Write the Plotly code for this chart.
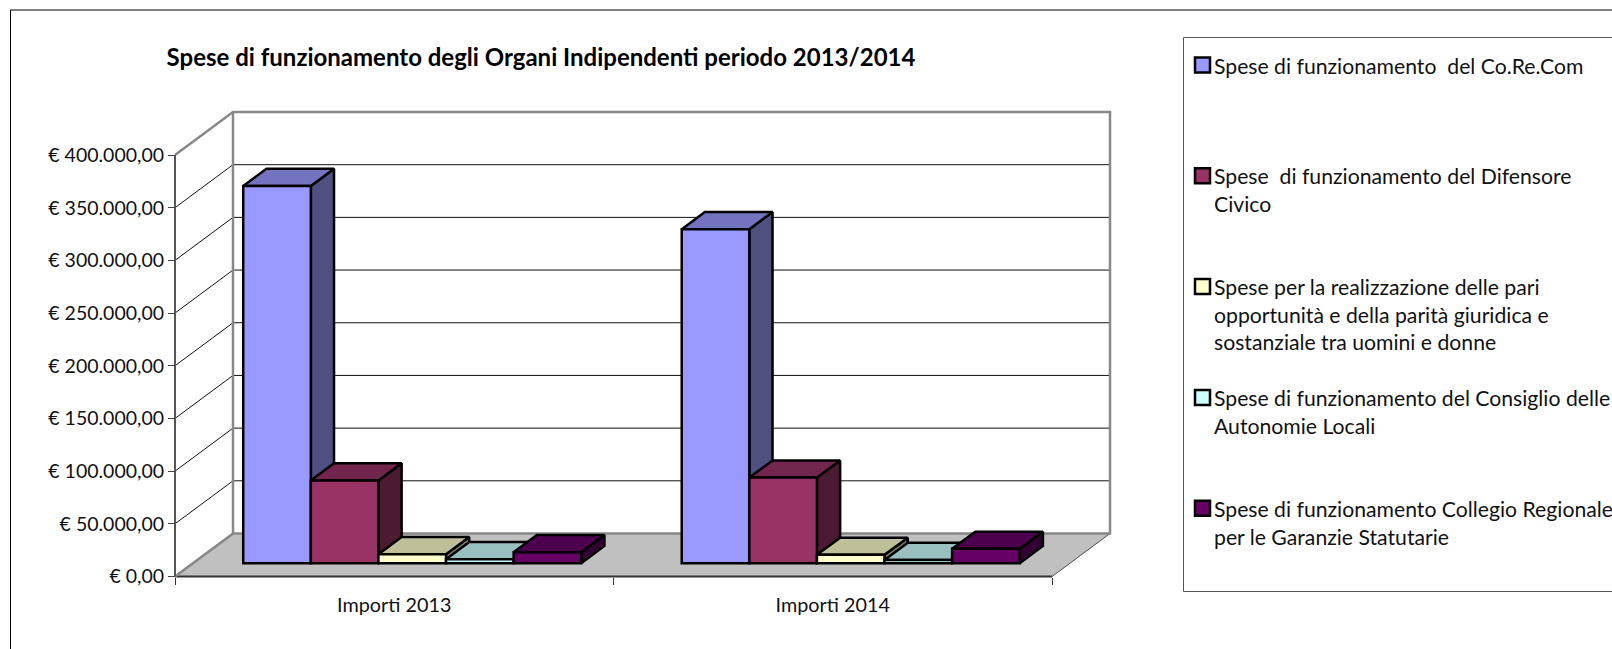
import plotly.graph_objects as go

W, H = 1612, 649
FONT = "Lato"

categories = ["Importi 2013", "Importi 2014"]
series_names = [
    "Spese di funzionamento\u00a0 del Co.Re.Com",
    "Spese\u00a0 di funzionamento del Difensore<br>Civico",
    "Spese per la realizzazione delle pari<br>opportunità e della parità giuridica e<br>sostanziale tra uomini e donne",
    "Spese di funzionamento del Consiglio delle<br>Autonomie Locali",
    "Spese di funzionamento Collegio Regionale<br>per le Garanzie Statutarie",
]
corecom = [358000, 317000]
difensore = [78400, 81200]
pari_opportunita = [8500, 7900]
consiglio_autonomie = [3800, 3100]
collegio_garanzie = [10400, 13600]
series_values = [corecom, difensore, pari_opportunita, consiglio_autonomie, collegio_garanzie]

front_colors = ["#9999FF", "#993366", "#FFFFCC", "#CCFFFF", "#660066"]
top_colors = ["#7373BF", "#73264D", "#BFBF99", "#99BFBF", "#4D004D"]
side_colors = ["#4F4F80", "#4D1A33", "#808066", "#668080", "#330033"]

y_ticks = [0, 50000, 100000, 150000, 200000, 250000, 300000, 350000, 400000]
y_ticktext = ["€ 0,00", "€ 50.000,00", "€ 100.000,00", "€ 150.000,00", "€ 200.000,00",
              "€ 250.000,00", "€ 300.000,00", "€ 350.000,00", "€ 400.000,00"]
title = "Spese di funzionamento degli Organi Indipendenti periodo 2013/2014"

# axis calibration: pixels per category and per euro, origin of the front plane
PX_CAT = 438.5
PX_EUR = 421.5 / 400000
X0, Y0 = 175.0, 576.5
xrange_ = [-X0 / PX_CAT, (W - X0) / PX_CAT]
yrange_ = [(Y0 - H) / PX_EUR, Y0 / PX_EUR]

# oblique depth of the 3D box, in axis units
DX = 58 / PX_CAT
DY = 43 / PX_EUR
BAR_W = 67.6 / PX_CAT
BAR_START = 0.31   # share of the depth before the bar
BAR_DEPTH = 0.40   # share of the depth used by the bar
n_cat = len(categories)
vmax = y_ticks[-1]

fig = go.Figure()


def poly(xs, ys, fill=None, color="black", width=1, name=""):
    fig.add_trace(go.Scatter(
        x=xs, y=ys, mode="lines", name=name, showlegend=False, hoverinfo="skip",
        fill="toself" if fill else None, fillcolor=fill,
        line=dict(color=color, width=width)))


# floor
poly([0, n_cat, n_cat + DX, DX, 0], [0, 0, DY, DY, 0], fill="#C0C0C0", color="#C0C0C0", name="floor")
poly([0, n_cat], [0, 0], color="#333333", width=2, name="x axis")
poly([n_cat, n_cat + DX], [0, DY], color="#555555", width=1, name="floor edge")

# gridlines on side and back walls
for v in y_ticks[1:-1]:
    poly([0, DX, n_cat + DX], [v, v + DY, v + DY], color="#111111", width=1, name="grid")

# wall outlines
WALL = "#888888"
poly([0, DX, DX], [0, DY, vmax + DY], color=WALL, width=2.5, name="wall")
poly([0, DX, n_cat + DX, n_cat + DX, DX],
     [vmax, vmax + DY, vmax + DY, DY, DY], color=WALL, width=2.5, name="wall")
poly([0, 0], [0, vmax], color="#555555", width=2, name="y axis")

# bars: side and top faces, painted left to right; front faces are bars on the overlay axes
base = BAR_START * DY
for c in range(n_cat):
    left = c + 0.5 + BAR_START * DX - len(series_values) * BAR_W / 2
    for s, values in enumerate(series_values):
        v = values[c]
        x0 = left + s * BAR_W
        x1 = x0 + BAR_W
        ddx, ddy = BAR_DEPTH * DX, BAR_DEPTH * DY
        poly([x1, x1 + ddx, x1 + ddx, x1, x1],
             [base, base + ddy, base + v + ddy, base + v, base],
             fill=side_colors[s], width=2.5, name="side")
        poly([x0, x0 + ddx, x1 + ddx, x1, x0],
             [base + v, base + v + ddy, base + v + ddy, base + v, base + v],
             fill=top_colors[s], width=2.5, name="top")

for s, values in enumerate(series_values):
    xs = [c + 0.5 + BAR_START * DX + (s - (len(series_values) - 1) / 2) * BAR_W for c in range(n_cat)]
    fig.add_trace(go.Bar(
        x=xs, y=values, base=[base] * n_cat, width=BAR_W, xaxis="x2", yaxis="y2",
        name=series_names[s].replace("<br>", " "), showlegend=False,
        marker=dict(color=front_colors[s], line=dict(color="black", width=2.5))))


# frame and legend (paper coordinates equal figure pixels here)
def px(x):
    return x / W


def py(y):
    return 1 - y / H


shapes = [
    dict(type="line", xref="paper", yref="paper", x0=px(10.5), x1=px(10.5), y0=py(10), y1=py(H + 5),
         line=dict(color="black", width=1)),
    dict(type="line", xref="paper", yref="paper", x0=px(10.5), x1=px(W + 5), y0=py(10), y1=py(10),
         line=dict(color="black", width=1)),
    dict(type="rect", xref="paper", yref="paper", x0=px(1183.5), x1=px(W + 10), y0=py(37.5), y1=py(591.5),
         line=dict(color="#555555", width=1), fillcolor="rgba(0,0,0,0)"),
]
annotations = []
LEG_STEP = 110.8
for s, name in enumerate(series_names):
    cy = 65 + s * LEG_STEP
    shapes.append(dict(type="rect", xref="paper", yref="paper", x0=px(1195), x1=px(1210),
                       y0=py(cy - 7.5), y1=py(cy + 7.5), fillcolor=front_colors[s],
                       line=dict(color="black", width=2.5)))
    annotations.append(dict(
        xref="paper", yref="paper", x=px(1212), y=py(cy - 14.5), xanchor="left", yanchor="top",
        align="left", showarrow=False, text=name,
        font=dict(family=FONT, size=21.2, color="#111111")))

fig.update_layout(
    width=W, height=H, template="none",
    margin=dict(l=0, r=0, t=0, b=0, pad=0),
    paper_bgcolor="white", plot_bgcolor="rgba(0,0,0,0)",
    barmode="overlay", showlegend=False,
    title=dict(text="<b>" + title + "</b>", x=541 / W, xanchor="center", xref="paper",
               y=py(58), yanchor="middle", yref="container",
               font=dict(family=FONT, size=24, color="black")),
    font=dict(family=FONT, size=20, color="#111111"),
    shapes=shapes, annotations=annotations,
    xaxis=dict(
        domain=[0, 1], range=xrange_, anchor="free", position=py(Y0), automargin=False,
        showgrid=False, zeroline=False, showline=False,
        tickmode="array", tickvals=[c + 0.5 for c in range(n_cat)], ticktext=categories,
        ticks="outside", ticklen=11, tickcolor="rgba(0,0,0,0)",
        minor=dict(tickmode="array", tickvals=list(range(n_cat + 1)), ticks="outside", ticklen=7,
                   tickcolor="#333333", tickwidth=1, showgrid=False),
        tickfont=dict(family=FONT, size=19.8, color="#111111")),
    yaxis=dict(
        domain=[0, 1], range=yrange_, anchor="free", position=px(X0), automargin=False,
        showgrid=False, zeroline=False, showline=False,
        tickmode="array", tickvals=y_ticks, ticktext=y_ticktext,
        ticks="outside", ticklen=7, tickcolor="#444444", tickwidth=1,
        tickfont=dict(family=FONT, size=19.5, color="#111111")),
    xaxis2=dict(domain=[0, 1], range=xrange_, overlaying="x", anchor="y2", visible=False),
    yaxis2=dict(domain=[0, 1], range=yrange_, overlaying="y", anchor="x2", visible=False),
)

fig.write_html("out.html", config={"displayModeBar": False},
               post_script="document.body.style.margin='0';document.documentElement.style.overflow='hidden';")
